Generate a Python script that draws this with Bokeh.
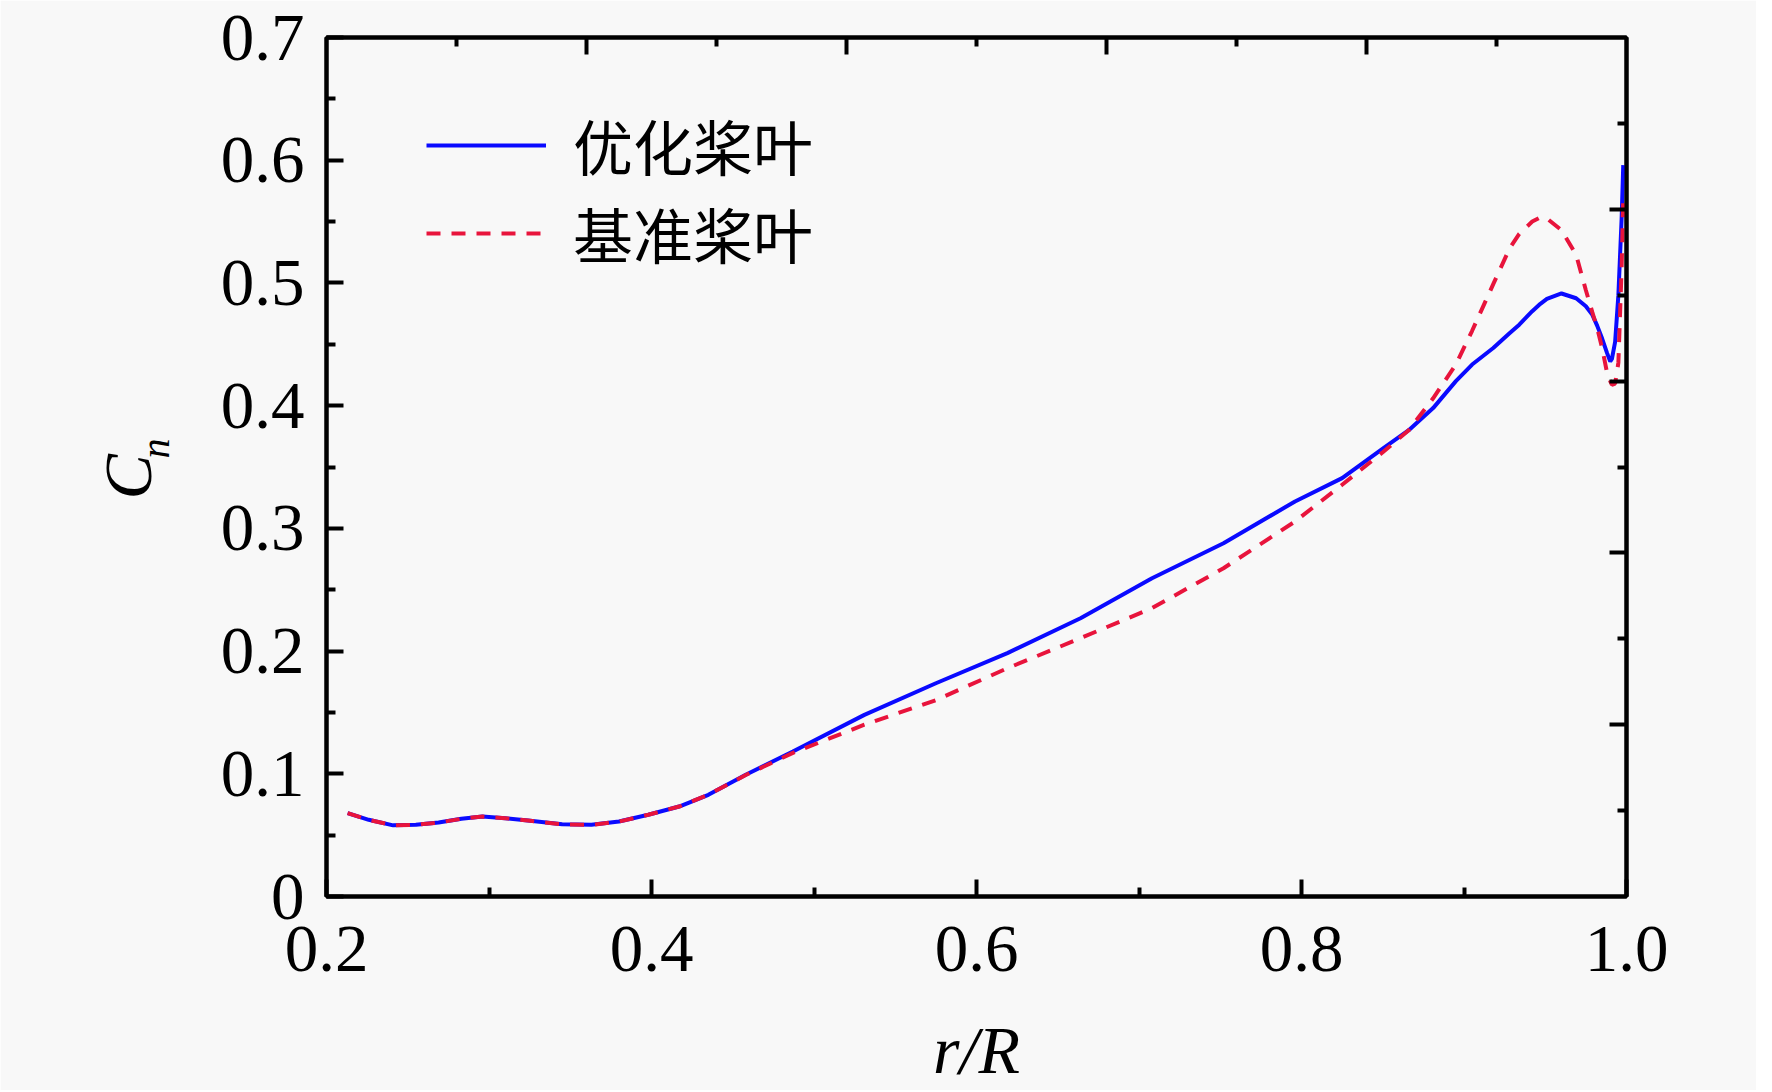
from bokeh.plotting import figure
from bokeh.models import Range1d, FixedTicker, LinearAxis, Title, Legend, LegendItem
from bokeh.embed import file_html
from bokeh.resources import INLINE

# ---- data ----
r_R = [0.213, 0.226, 0.241, 0.255, 0.269, 0.283, 0.296, 0.310, 0.324, 0.345,
       0.363, 0.380, 0.398, 0.417, 0.435, 0.458, 0.487, 0.531, 0.575, 0.619,
       0.664, 0.708, 0.752, 0.796, 0.825, 0.850, 0.866, 0.881, 0.895, 0.905,
       0.918, 0.928, 0.934, 0.942, 0.947, 0.951, 0.960, 0.969, 0.975, 0.979,
       0.982, 0.985, 0.988, 0.990, 0.991, 0.993, 0.995, 0.997, 0.998]

cn_optimized = [0.068, 0.0625, 0.058, 0.0584, 0.0603, 0.0633, 0.0652, 0.0638, 0.0619, 0.0589,
                0.0584, 0.0611, 0.0666, 0.0733, 0.0829, 0.0992, 0.1182, 0.148, 0.1738, 0.1983,
                0.2268, 0.2594, 0.2879, 0.3219, 0.3409, 0.365, 0.380, 0.398, 0.420, 0.4335,
                0.447, 0.459, 0.466, 0.477, 0.483, 0.487, 0.4914, 0.4875, 0.481, 0.474,
                0.465, 0.4547, 0.443, 0.436, 0.438, 0.452, 0.490, 0.5525, 0.596]

cn_baseline = [0.068, 0.0625, 0.058, 0.0584, 0.0603, 0.0633, 0.0652, 0.0638, 0.0619, 0.0589,
               0.0584, 0.0611, 0.0666, 0.0733, 0.0829, 0.0990, 0.1170, 0.140, 0.160, 0.186,
               0.2105, 0.235, 0.2675, 0.3056, 0.3355, 0.362, 0.380, 0.406, 0.4335, 0.461,
               0.499, 0.528, 0.540, 0.550, 0.5535, 0.5525, 0.543, 0.523, 0.494, 0.476,
               0.463, 0.447, 0.427, 0.420, 0.417, 0.418, 0.435, 0.512, 0.570]

series_names = ["优化桨叶", "基准桨叶"]

x_ticks = [0.2, 0.4, 0.6, 0.8, 1.0]
x_tick_labels = ["0.2", "0.4", "0.6", "0.8", "1.0"]
x_minor = [0.3, 0.5, 0.7, 0.9]
y_ticks = [0.0, 0.1, 0.2, 0.3, 0.4, 0.5, 0.6, 0.7]
y_tick_labels = ["0", "0.1", "0.2", "0.3", "0.4", "0.5", "0.6", "0.7"]
y_minor = [0.05, 0.15, 0.25, 0.35, 0.45, 0.55, 0.65]
top_major = [0.36, 0.52, 0.68, 0.84]
top_minor = [0.28, 0.44, 0.60, 0.76, 0.92]
right_major = [0.14, 0.28, 0.42, 0.56]
right_minor = [0.07, 0.21, 0.35, 0.49, 0.63]

BG = "#f8f8f8"
SERIF = "Liberation Serif"
CJK = "Noto Sans CJK SC"

p = figure(frame_width=1300, frame_height=859,
           x_range=Range1d(0.2, 1.0), y_range=Range1d(0.0, 0.7),
           output_backend="svg", toolbar_location=None,
           min_border_left=326, min_border_right=130,
           min_border_top=37, min_border_bottom=180,
           background_fill_color=BG, border_fill_color=BG)
p.grid.visible = False
p.outline_line_color = "black"
p.outline_line_width = 4

xa = p.below[0]
ya = p.left[0]

r_opt = p.line(r_R, cn_optimized, line_color="#0a0aff", line_width=4)
r_base = p.line(r_R, cn_baseline, line_color="#e8143c", line_width=4, line_dash="14 11")

top_axis = LinearAxis(ticker=FixedTicker(ticks=top_major, minor_ticks=top_minor))
right_axis = LinearAxis(ticker=FixedTicker(ticks=right_major, minor_ticks=right_minor))
p.add_layout(top_axis, "above")
p.add_layout(right_axis, "right")

xa.ticker = FixedTicker(ticks=x_ticks, minor_ticks=x_minor)
ya.ticker = FixedTicker(ticks=y_ticks, minor_ticks=y_minor)
xa.major_label_overrides = dict(zip(x_ticks, x_tick_labels))
ya.major_label_overrides = dict(zip(y_ticks, y_tick_labels))

for ax in (xa, ya, top_axis, right_axis):
    ax.axis_line_width = 4
    ax.axis_line_color = "black"
    ax.major_tick_line_width = 4
    ax.minor_tick_line_width = 4
    ax.major_tick_in = 17
    ax.major_tick_out = 0
    ax.minor_tick_in = 9
    ax.minor_tick_out = 0
    ax.major_label_text_font = SERIF
    ax.major_label_text_font_size = "67px"
    ax.major_label_text_color = "black"

for ax in (top_axis, right_axis):
    ax.major_label_text_color = None
    ax.major_label_text_font_size = "10px"
    ax.major_label_standoff = 0

xa.major_label_standoff = 30
ya.major_label_standoff = 22

xa.axis_label = "r/R"
xa.axis_label_text_font = SERIF
xa.axis_label_text_font_style = "italic"
xa.axis_label_text_font_size = "68px"
xa.axis_label_text_color = "black"
xa.axis_label_standoff = 38

# hidden y-axis label used only as spacing, so that the visible C_n sits where it should
ya.axis_label = "Cn"
ya.axis_label_text_color = None
ya.axis_label_text_font_size = "10px"
ya.axis_label_standoff = 26

# visible y-axis label C_n as two vertical titles (offset measured from frame bottom)
t_n = Title(text="n", text_font=SERIF, text_font_style="italic", text_font_size="40px",
            text_color="black", align="left", offset=438, standoff=0)
t_c = Title(text="C", text_font=SERIF, text_font_style="italic", text_font_size="68px",
            text_color="black", align="left", offset=397, standoff=-71)
p.add_layout(t_n, "left")
p.add_layout(t_c, "left")

# two single-item legends so the row spacing can be matched
def make_legend(label, renderer, y_loc):
    lg = Legend(items=[LegendItem(label=label, renderers=[renderer])],
                location=(100, y_loc))
    lg.padding = 0
    lg.margin = 0
    lg.spacing = 0
    lg.glyph_width = 120
    lg.glyph_height = 60
    lg.label_height = 60
    lg.label_standoff = 27
    lg.label_text_font = CJK
    lg.label_text_font_size = "60px"
    lg.label_text_color = "black"
    lg.border_line_color = None
    lg.background_fill_alpha = 0
    return lg

p.add_layout(make_legend(series_names[0], r_opt, 708))
p.add_layout(make_legend(series_names[1], r_base, 620))

open("out.html", "w").write(file_html(p, INLINE))
